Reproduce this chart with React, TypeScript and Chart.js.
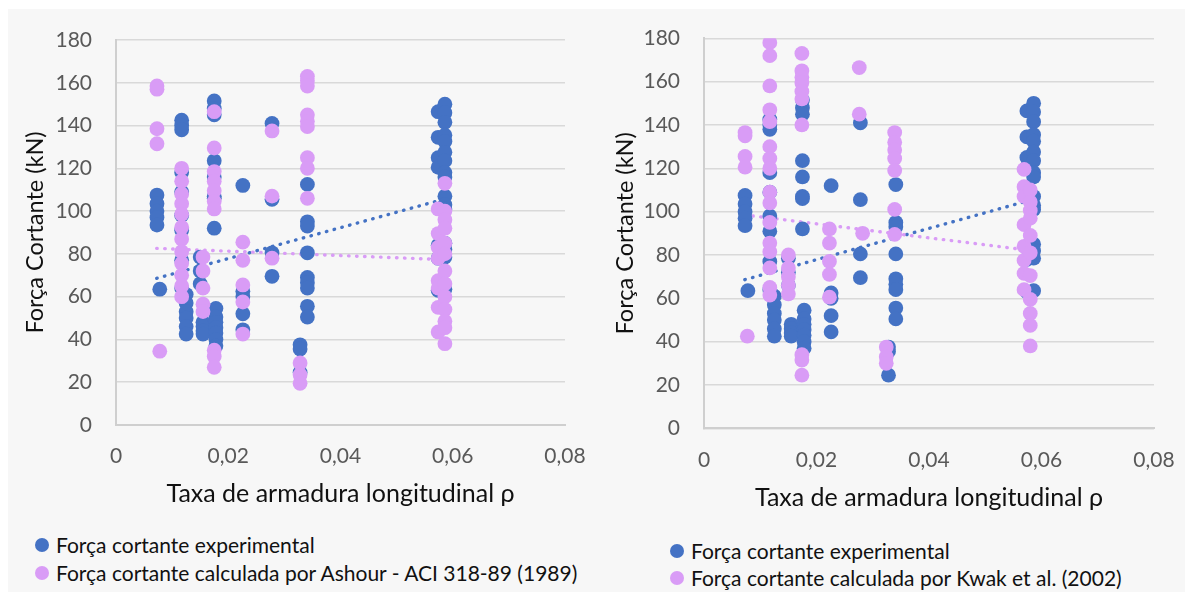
import React, { useEffect, useRef } from 'react';
import { Chart, registerables } from 'chart.js';

Chart.register(...registerables);

const FONT = 'Lato, "Noto Sans", sans-serif';
const BLUE = '#4472C4';
const PINK = '#D99CF6';

// Axis tick labels
const xTickLabels = ['0', '0,02', '0,04', '0,06', '0,08'];
const yTickLabels = ['0', '20', '40', '60', '80', '100', '120', '140', '160', '180'];

// Experimental shear force (same in both charts)
const expRho = [
  0.0073, 0.0073, 0.0073, 0.0073, 0.0073,
  0.0078,
  0.0117, 0.0117, 0.0117, 0.0117, 0.0117, 0.0117, 0.0117, 0.0117, 0.0117,
  0.0125, 0.0125, 0.0125, 0.0125, 0.0125, 0.0125,
  0.015, 0.015, 0.015,
  0.0155, 0.0155, 0.0155, 0.0155,
  0.0175, 0.0175, 0.0175, 0.0175, 0.0175, 0.0175, 0.0175, 0.0175,
  0.0178, 0.0178, 0.0178, 0.0178, 0.0178, 0.0178, 0.0178,
  0.0226, 0.0226, 0.0226, 0.0226, 0.0226,
  0.0278, 0.0278, 0.0278, 0.0278,
  0.0328, 0.0328, 0.0328,
  0.0341, 0.0341, 0.0341, 0.0341, 0.0341, 0.0341, 0.0341, 0.0341, 0.0341,
  0.0574, 0.0574, 0.0574, 0.0574, 0.0574, 0.0574, 0.0574,
  0.0586, 0.0586, 0.0586, 0.0586, 0.0586, 0.0586, 0.0586, 0.0586, 0.0586, 0.0586, 0.0586, 0.0586, 0.0586, 0.0586, 0.0586, 0.0586,
];
const expForce = [
  107.5, 103.5, 100, 97, 93.5,
  63.5,
  142.5, 140, 138, 118, 109, 98, 91, 77, 64,
  61, 57, 53, 50, 46, 42.5,
  78.5, 72, 66,
  48, 46, 44, 42.5,
  151.5, 148, 145, 123.5, 116, 107, 106, 92,
  54.5, 50.5, 48, 45.5, 43, 40, 37,
  112, 62.5, 60, 52, 44.5,
  141, 105.5, 80.5, 69.5,
  37.5, 35.5, 24.5,
  112.5, 95, 93, 80.5, 69, 66.5, 64, 55.5, 50.5,
  146.5, 134.5, 125, 120.5, 84, 78, 63,
  150, 146, 141.5, 135.5, 132.5, 127.5, 123.5, 118, 116, 107, 103, 101, 85, 82, 78.5, 63.5,
];

// Ashour - ACI 318-89 (1989)
const ashRho = [
  0.0073, 0.0073, 0.0073, 0.0073,
  0.0078,
  0.0117, 0.0117, 0.0117, 0.0117, 0.0117, 0.0117, 0.0117, 0.0117, 0.0117, 0.0117, 0.0117, 0.0117,
  0.0155, 0.0155, 0.0155, 0.0155, 0.0155,
  0.0175, 0.0175, 0.0175, 0.0175, 0.0175, 0.0175, 0.0175, 0.0175, 0.0175, 0.0175,
  0.0226, 0.0226, 0.0226, 0.0226, 0.0226,
  0.0278, 0.0278, 0.0278,
  0.0328, 0.0328, 0.0328,
  0.0341, 0.0341, 0.0341, 0.0341, 0.0341, 0.0341, 0.0341, 0.0341, 0.0341,
  0.0574, 0.0574, 0.0574, 0.0574, 0.0574, 0.0574, 0.0574, 0.0574,
  0.0586, 0.0586, 0.0586, 0.0586, 0.0586, 0.0586, 0.0586, 0.0586, 0.0586, 0.0586, 0.0586, 0.0586, 0.0586,
];
const ashForce = [
  158.5, 157, 138.5, 131.5,
  34.5,
  120, 114, 108, 103.5, 98.5, 92.5, 87, 81, 75.5, 70, 65, 60,
  78.5, 72, 64, 56.5, 53,
  146.5, 129.5, 118.5, 114, 109.5, 104.5, 101, 35, 32, 27,
  85.5, 77, 65.5, 57.5, 42.5,
  137.5, 107, 78,
  29, 23.5, 19.5,
  163, 161, 158.5, 145, 142, 139.5, 125, 120, 106,
  101, 89.5, 83, 78, 67.5, 64, 55, 43.5,
  113, 100, 96, 92, 85, 80, 72, 66, 60, 54, 48.5, 45.5, 38,
];

// Kwak et al. (2002)
const kwakRho = [
  0.0073, 0.0073, 0.0073, 0.0073,
  0.0077,
  0.0117, 0.0117, 0.0117, 0.0117, 0.0117, 0.0117, 0.0117, 0.0117, 0.0117, 0.0117, 0.0117, 0.0117, 0.0117, 0.0117, 0.0117, 0.0117,
  0.015, 0.015, 0.015, 0.015, 0.015,
  0.0174, 0.0174, 0.0174, 0.0174, 0.0174, 0.0174, 0.0174, 0.0174, 0.0174, 0.0174,
  0.0223, 0.0223, 0.0223, 0.0223, 0.0223,
  0.0276, 0.0276, 0.0282,
  0.0324, 0.0324, 0.0324,
  0.0339, 0.0339, 0.0339, 0.0339, 0.0339, 0.0339, 0.0339,
  0.0569, 0.0569, 0.0569, 0.0569, 0.0569, 0.0569, 0.0569, 0.0569,
  0.058, 0.058, 0.058, 0.058, 0.058, 0.058, 0.058, 0.058, 0.058, 0.058, 0.058,
];
const kwakForce = [
  136.5, 135, 125.5, 120.5,
  42.5,
  178, 172, 158, 147, 141.5, 130, 124.5, 120, 109, 104, 95, 85.5, 81.5, 74, 65, 61.5,
  80, 74, 70, 66, 62,
  173, 165, 162, 159.5, 155.5, 152, 140, 34, 31.5, 24.5,
  92, 85.5, 77, 71, 60.5,
  166.5, 145, 90,
  37.5, 33, 30,
  136.5, 132, 128.5, 124.5, 119, 101, 89.5,
  119.5, 111.5, 107, 94, 84, 77.5, 71.5, 64,
  110, 104.5, 100.5, 97, 89, 81, 70.5, 59.5, 53, 47.5, 38,
];

// Linear trendline end points
const trendRho = [0.00725, 0.0586];
const expTrend = [68.6, 105.7];
const ashTrend = [82.6, 77.3];
const kwakTrend = [98.5, 81.9];

const toPts = (xs: number[], ys: number[]) => xs.map((x, i) => ({ x, y: ys[i] }));

type Spec = {
  calcRho: number[];
  calcForce: number[];
  calcTrend: number[];
  width: number;
  height: number;
  areaLeft: number;
  areaTop: number;
  areaRight: number;
  areaBottom: number;
  yTitlePad: number;
  xTitlePad: number;
};

function ScatterPanel({ spec }: { spec: Spec }) {
  const ref = useRef<HTMLCanvasElement | null>(null);
  useEffect(() => {
    if (!ref.current) return;
    const s = spec;
    const dotted = (color: string) => ({
      borderColor: color,
      borderWidth: 3.4,
      borderDash: [0.5, 7.5],
      borderCapStyle: 'round' as const,
      pointRadius: 0,
      showLine: true,
      fill: false,
    });
    const chart = new Chart(ref.current, {
      type: 'scatter',
      data: {
        datasets: [
          {
            label: 'trend exp',
            data: toPts(trendRho, expTrend),
            order: 5,
            ...dotted(BLUE),
          } as any,
          {
            label: 'trend calc',
            data: toPts(trendRho, s.calcTrend),
            order: 4,
            ...dotted(PINK),
          } as any,
          {
            label: 'Força cortante experimental',
            data: toPts(expRho, expForce),
            backgroundColor: BLUE,
            borderWidth: 0,
            pointRadius: 7.4,
            order: 3,
          },
          {
            label: 'calc',
            data: toPts(s.calcRho, s.calcForce),
            backgroundColor: PINK,
            borderWidth: 0,
            pointRadius: 7.4,
            order: 2,
          },
        ],
      },
      options: {
        animation: false,
        responsive: false,
        devicePixelRatio: 1,
        layout: {
          padding: {
            left: 0,
            top: s.areaTop,
            right: s.width - s.areaRight,
            bottom: 0,
          },
        },
        plugins: { legend: { display: false }, tooltip: { enabled: false } },
        scales: {
          x: {
            type: 'linear',
            min: 0,
            max: 0.08,
            afterFit: (sc: any) => {
              sc.height = s.height - s.areaBottom;
              sc.paddingLeft = 0;
              sc.paddingRight = 0;
            },
            afterBuildTicks: (sc: any) => {
              sc.ticks = xTickLabels.map((_, i) => ({ value: i * 0.02 }));
            },
            ticks: {
              callback: (_v: any, i: number) => xTickLabels[i],
              font: { family: FONT, size: 21 },
              color: '#595959',
              padding: 19,
              maxRotation: 0,
            },
            grid: { display: false, drawTicks: false },
            border: { display: true, color: '#cfcfcf', width: 2 },
            title: {
              display: true,
              text: 'Taxa de armadura longitudinal ρ',
              font: { family: FONT, size: 25 },
              color: '#111',
              padding: { top: 0, bottom: s.xTitlePad },
            },
          },
          y: {
            type: 'linear',
            min: 0,
            max: 180,
            afterFit: (sc: any) => {
              sc.width = s.areaLeft;
              sc.paddingTop = 0;
              sc.paddingBottom = 0;
            },
            afterBuildTicks: (sc: any) => {
              sc.ticks = yTickLabels.map((_, i) => ({ value: i * 20 }));
            },
            ticks: {
              callback: (_v: any, i: number) => yTickLabels[i],
              font: { family: FONT, size: 21 },
              color: '#595959',
              padding: 24,
            },
            grid: { color: '#d9d9d9', lineWidth: 1.5, drawTicks: false },
            border: { display: true, color: '#cfcfcf', width: 2 },
            title: {
              display: true,
              text: 'Força Cortante (kN)',
              font: { family: FONT, size: 23.5 },
              color: '#111',
              padding: { top: s.yTitlePad, bottom: 0 },
            },
          },
        },
      },
    });
    return () => chart.destroy();
  }, [spec]);
  return (
    <canvas
      ref={ref}
      width={spec.width}
      height={spec.height}
      style={{ display: 'block', width: spec.width, height: spec.height }}
    />
  );
}

const leftSpec: Spec = {
  calcRho: ashRho,
  calcForce: ashForce,
  calcTrend: ashTrend,
  width: 582,
  height: 520,
  areaLeft: 108,
  areaTop: 31,
  areaRight: 557,
  areaBottom: 416,
  yTitlePad: 12.9,
  xTitlePad: 20.4,
};

const rightSpec: Spec = {
  calcRho: kwakRho,
  calcForce: kwakForce,
  calcTrend: kwakTrend,
  width: 595,
  height: 520,
  areaLeft: 114,
  areaTop: 29.3,
  areaRight: 564,
  areaBottom: 419.3,
  yTitlePad: 20.9,
  xTitlePad: 16.4,
};

function Legend({ left, top, gap, items }: { left: number; top: number; gap: number; items: { color: string; text: string }[] }) {
  return (
    <div style={{ position: 'absolute', left, top, fontFamily: FONT, fontSize: 21, color: '#111' }}>
      {items.map((it, i) => (
        <div
          key={i}
          style={{ position: 'absolute', left: 0, top: i * gap, whiteSpace: 'nowrap', height: 26, lineHeight: '26px' }}
        >
          <span
            style={{
              position: 'absolute',
              left: 0,
              top: 6,
              width: 14,
              height: 14,
              borderRadius: 7,
              background: it.color,
            }}
          />
          <span style={{ position: 'absolute', left: 21, top: 0 }}>{it.text}</span>
        </div>
      ))}
    </div>
  );
}

export default function App() {
  return (
    <div style={{ position: 'absolute', left: 0, top: 0, width: 1185, height: 592, background: '#fff', overflow: 'hidden' }}>
      <div style={{ position: 'absolute', left: 8, top: 9, width: 1177, height: 583, background: '#f7f7f7' }} />
      <div style={{ position: 'absolute', left: 8, top: 9 }}>
        <ScatterPanel spec={leftSpec} />
      </div>
      <div style={{ position: 'absolute', left: 590, top: 9 }}>
        <ScatterPanel spec={rightSpec} />
      </div>
      <Legend
        left={35}
        top={532}
        gap={28}
        items={[
          { color: BLUE, text: 'Força cortante experimental' },
          { color: PINK, text: 'Força cortante calculada por Ashour - ACI 318-89 (1989)' },
        ]}
      />
      <Legend
        left={670}
        top={538}
        gap={27}
        items={[
          { color: BLUE, text: 'Força cortante experimental' },
          { color: PINK, text: 'Força cortante calculada por Kwak et al. (2002)' },
        ]}
      />
    </div>
  );
}
